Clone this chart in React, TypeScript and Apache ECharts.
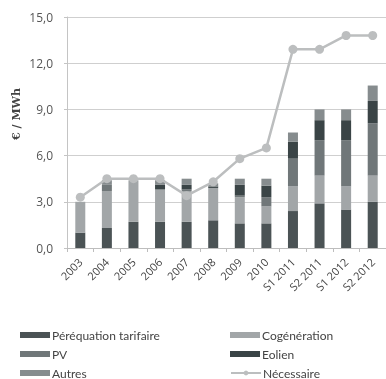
import React, { useEffect, useRef } from "react";
import * as echarts from "echarts";

const categories = ["2003", "2004", "2005", "2006", "2007", "2008", "2009", "2010", "S1 2011", "S2 2011", "S1 2012", "S2 2012"];
const perequation = [1.0, 1.3, 1.7, 1.7, 1.7, 1.8, 1.6, 1.6, 2.4, 2.9, 2.5, 3.0];
const cogeneration = [2.0, 2.4, 2.7, 2.1, 2.0, 2.1, 1.7, 1.1, 1.6, 1.8, 1.5, 1.7];
const pv = [0, 0.4, 0, 0, 0.1, 0, 0.1, 0.6, 1.8, 2.3, 3.0, 3.4];
const eolien = [0, 0, 0, 0.3, 0.3, 0.1, 0.7, 0.75, 1.1, 1.3, 1.3, 1.45];
const autres = [0, 0.3, 0, 0.3, 0.4, 0.2, 0.4, 0.45, 0.6, 0.7, 0.7, 1.0];
const necessaire = [3.3, 4.5, 4.5, 4.5, 3.4, 4.3, 5.8, 6.5, 12.9, 12.9, 13.8, 13.8];
const yTicks = [0, 3, 6, 9, 12, 15];
const legendRows = [
  ["Péréquation tarifaire", "Cogénération"],
  ["PV", "Eolien"],
  ["Autres", "Nécessaire"],
];

const FONT = "'Open Sans', 'Noto Sans', sans-serif";
const LFONT = "Lato, 'Open Sans', sans-serif";

export default function App() {
  const ref = useRef<HTMLDivElement>(null);
  useEffect(() => {
    if (!ref.current) return;
    const chart = echarts.init(ref.current, null, { renderer: "svg" });
    const bar = (name: string, data: number[], color: string) => ({
      name,
      type: "bar",
      stack: "s",
      data,
      barWidth: 10,
      itemStyle: { color },
    });
    const rowCenters = [335, 354, 373];
    const colLefts = [20, 230];
    const legends: any[] = [];
    legendRows.forEach((row, r) => {
      row.forEach((name, c) => {
        legends.push({
          data: [name],
          orient: "horizontal",
          left: colLefts[c],
          top: rowCenters[r] - 7,
          padding: 0,
          itemWidth: 30,
          itemHeight: 6,
          icon: name === "Nécessaire" ? undefined : "rect",
          textStyle: { fontSize: 12, color: "#444", fontFamily: LFONT, lineHeight: 14, padding: [0, 0, 0, -3] },
        });
      });
    });
    chart.setOption({
      animation: false,
      grid: { left: 67, top: 17, width: 326, height: 231, containLabel: false },
      xAxis: {
        type: "category",
        data: categories,
        axisLine: { lineStyle: { color: "#bdbdbd", width: 1 } },
        axisTick: { show: true, length: 4, lineStyle: { color: "#bdbdbd" } },
        axisLabel: { rotate: 45, fontSize: 11, color: "#444", fontFamily: FONT, margin: 12, interval: 0 },
      },
      yAxis: {
        type: "value",
        min: 0,
        max: 15,
        interval: 3,
        axisLine: { show: true, lineStyle: { color: "#c4c4c4" } },
        axisTick: { show: true, length: 3, lineStyle: { color: "#c4c4c4" } },
        splitLine: { lineStyle: { color: "#cfcfcf", width: 1 } },
        axisLabel: {
          fontSize: 12,
          color: "#555",
          fontFamily: FONT,
          margin: 14,
          formatter: (v: number) => (yTicks.includes(v) ? v.toFixed(1).replace(".", ",") : ""),
        },
      },
      legend: legends,
      graphic: [
        {
          type: "text",
          x: 11,
          y: 114,
          rotation: Math.PI / 2,
          style: {
            text: "€ / MWh",
            font: "bold 11px 'DejaVu Serif', serif",
            fill: "#444",
            align: "center",
            verticalAlign: "top",
          },
        },
      ],
      series: [
        bar("Péréquation tarifaire", perequation, "#4b5355"),
        bar("Cogénération", cogeneration, "#a2a6a8"),
        bar("PV", pv, "#707779"),
        bar("Eolien", eolien, "#3a4446"),
        bar("Autres", autres, "#868c8e"),
        {
          name: "Nécessaire",
          type: "line",
          data: necessaire,
          symbol: "circle",
          symbolSize: 9,
          lineStyle: { color: "#bcbebf", width: 2.5 },
          itemStyle: { color: "#bcbebf" },
          z: 5,
        },
      ],
    });
    return () => chart.dispose();
  }, []);
  return <div ref={ref} style={{ position: "fixed", left: 0, top: 0, width: 386, height: 379, overflow: "hidden" }} />;
}
